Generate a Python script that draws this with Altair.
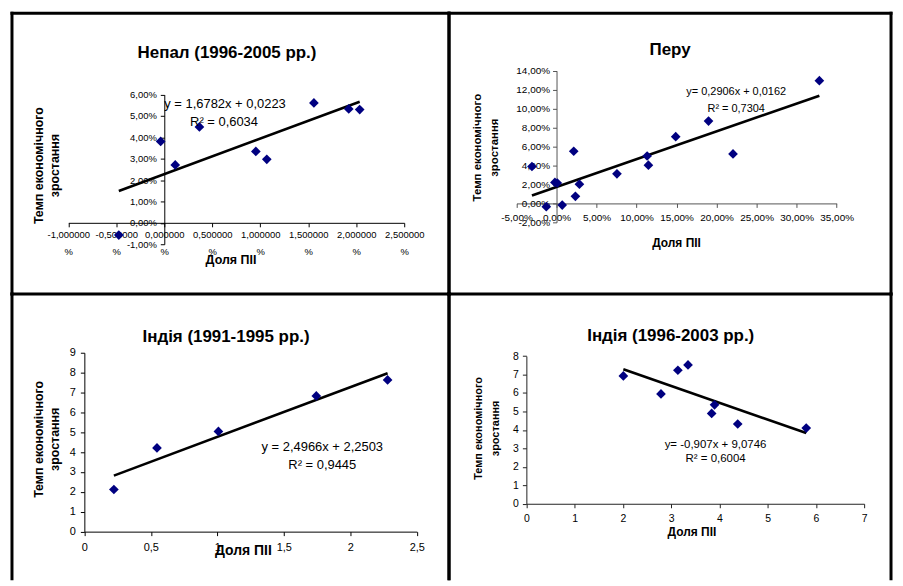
import altair as alt
import pandas as pd

FONT = "Liberation Sans"
POINT_COLOR = "#000080"

# ---------------- data ----------------
nepal_x = [-0.00474, -0.00038, 0.00114, 0.00366, 0.00954, 0.01068, 0.01559, 0.01922, 0.02036]
nepal_y = [-0.0057, 0.0381, 0.0271, 0.0449, 0.0334, 0.0297, 0.0561, 0.0533, 0.0530]

peru_x = [-0.0307, -0.0128, -0.0020, 0.0010, 0.0071, 0.0215, 0.0236, 0.0286,
          0.0755, 0.1132, 0.1148, 0.1489, 0.1899, 0.2205, 0.3284]
peru_y = [0.0389, -0.0035, 0.0221, 0.0215, -0.0018, 0.0550, 0.0074, 0.0203,
          0.0312, 0.0500, 0.0403, 0.0704, 0.0869, 0.0522, 0.1295]

india1_x = [0.222, 0.546, 1.008, 1.744, 2.28]
india1_y = [2.12, 4.21, 5.04, 6.83, 7.63]

india2_x = [2.01, 2.79, 3.14, 3.35, 3.84, 3.90, 4.38, 5.80]
india2_y = [6.92, 5.95, 7.23, 7.52, 4.89, 5.36, 4.32, 4.10]

titles = ["Непал (1996-2005 рр.)", "Перу", "Індія (1991-1995 рр.)", "Індія (1996-2003 рр.)"]
equations = [
    ("y  = 1,6782x + 0,0223", "R² = 0,6034"),
    ("y= 0,2906x + 0,0162", "R² = 0,7304"),
    ("y = 2,4966x + 2,2503", "R² = 0,9445"),
    ("y= -0,907x + 9,0746", "R² = 0,6004"),
]
x_title = "Доля ПІІ"
y_title = ["Темп економічного", "зростання"]

nepal_xticks = [-0.01, -0.005, 0.0, 0.005, 0.01, 0.015, 0.02, 0.025]
nepal_yticks = [-0.01, 0.0, 0.01, 0.02, 0.03, 0.04, 0.05, 0.06]
peru_xticks = [-0.05, 0.0, 0.05, 0.10, 0.15, 0.20, 0.25, 0.30, 0.35]
peru_yticks = [-0.02, 0.0, 0.02, 0.04, 0.06, 0.08, 0.10, 0.12, 0.14]
india1_xticks = [0, 0.5, 1, 1.5, 2, 2.5]
india1_yticks = [0, 1, 2, 3, 4, 5, 6, 7, 8, 9]
india2_xticks = [0, 1, 2, 3, 4, 5, 6, 7]
india2_yticks = [0, 1, 2, 3, 4, 5, 6, 7, 8]

# ---------------- label formats ----------------
PCT2 = "replace(replace(format(datum.value, '.2%'), '.', ','), '\u2212', '-')"
PCT6 = "[replace(replace(format(datum.value*100, '.6f'), '.', ','), '\u2212', '-'), '%']"
PLAIN = "replace(toString(datum.value), '.', ',')"

ONE = pd.DataFrame({"k": [0]})


def txt(text, x, y, size, bold=False, angle=0):
    kw = dict(font=FONT, fontSize=size, color="black", align="center", baseline="middle")
    if bold:
        kw["fontWeight"] = "bold"
    if angle:
        kw["angle"] = angle
    return alt.Chart(ONE).mark_text(**kw).encode(
        x=alt.value(x), y=alt.value(y), text=alt.value(text)
    )


def frame(W, H):
    """Chart-area border: top, left and right edges of the cell."""
    style = dict(color="black", strokeWidth=3, strokeCap="square")
    top = alt.Chart(ONE).mark_rule(**style).encode(x=alt.value(0), x2=alt.value(W), y=alt.value(0))
    left = alt.Chart(ONE).mark_rule(**style).encode(x=alt.value(0), y=alt.value(0), y2=alt.value(H))
    right = alt.Chart(ONE).mark_rule(**style).encode(x=alt.value(W), y=alt.value(0), y2=alt.value(H))
    return [top, left, right]


def panel(cfg):
    df = pd.DataFrame({"x": cfg["xs"], "y": cfg["ys"]})
    W, H = cfg["W"], cfg["H"]
    ac = cfg["axis_color"]
    xaxis = alt.Axis(
        values=cfg["xticks"], labelExpr=cfg["xfmt"], title=None, grid=False,
        offset=cfg["xaxis_y"] - H, tickSize=4, tickColor=ac, domainColor=ac,
        labelFont=FONT, labelFontSize=cfg["tick_fs"], labelColor="black",
        labelPadding=cfg["xpad"], labelOverlap=False, labelFlush=False,
        labelLineHeight=cfg.get("xlh", 12), minExtent=0,
    )
    yaxis = alt.Axis(
        values=cfg["yticks"], labelExpr=cfg["yfmt"], title=None, grid=False,
        offset=-cfg["yaxis_x"], tickSize=4, tickColor=ac, domainColor=ac,
        labelFont=FONT, labelFontSize=cfg["tick_fs"], labelColor="black",
        labelPadding=cfg["ypad"], labelOverlap=False, labelFlush=False, minExtent=0,
    )
    xenc = alt.X("x:Q", scale=alt.Scale(domain=cfg["xdom"], range=cfg["xrng"], nice=False, zero=False), axis=xaxis)
    yenc = alt.Y("y:Q", scale=alt.Scale(domain=cfg["ydom"], range=cfg["yrng"], nice=False, zero=False), axis=yaxis)

    line = alt.Chart(df).transform_regression("x", "y").mark_line(
        color="black", strokeWidth=2.6
    ).encode(x=xenc, y=yenc)
    pts = alt.Chart(df).mark_point(
        shape="diamond", filled=True, color=POINT_COLOR, opacity=1, size=95
    ).encode(x=xenc, y=yenc)

    eq1, eq2 = cfg["eq"]
    layers = [
        line, pts,
        txt(cfg["title"], *cfg["tpos"], 17, bold=True),
        txt(eq1, *cfg["eq1pos"], cfg["eq_fs"]),
        txt(eq2, *cfg["eq2pos"], cfg["eq_fs"]),
        txt(x_title, *cfg["xtpos"], cfg["xt_fs"], bold=True),
        txt(y_title[0], cfg["yt_x"][0], cfg["yt_y"], cfg["yt_fs"], bold=True, angle=270),
        txt(y_title[1], cfg["yt_x"][1], cfg["yt_y"], cfg["yt_fs"], bold=True, angle=270),
    ] + frame(W, H)
    return alt.layer(*layers).properties(width=W, height=H)


nepal = panel(dict(
    xs=nepal_x, ys=nepal_y, W=439, H=282,
    xdom=[-0.01, 0.025], xrng=[56.6, 394], ydom=[-0.01, 0.06], yrng=[232, 81.7],
    xticks=nepal_xticks, yticks=nepal_yticks, xfmt=PCT6, yfmt=PCT2,
    xaxis_y=210.5, yaxis_x=153, axis_color="black", tick_fs=9.5, xpad=3, ypad=4, xlh=17,
    title=titles[0], tpos=(216, 40), eq=equations[0], eq1pos=(214, 91), eq2pos=(213, 109), eq_fs=13,
    xtpos=(220, 248), xt_fs=12.5, yt_x=(27, 43), yt_y=153, yt_fs=12.5,
))

peru = panel(dict(
    xs=peru_x, ys=peru_y, W=444, H=282,
    xdom=[-0.05, 0.35], xrng=[67.8, 389.4], ydom=[-0.02, 0.14], yrng=[210, 57.7],
    xticks=peru_xticks, yticks=peru_yticks, xfmt=PCT2, yfmt=PCT2,
    xaxis_y=191, yaxis_x=108, axis_color="#555555", tick_fs=10, xpad=5, ypad=3,
    title=titles[1], tpos=(222, 37), eq=equations[1], eq1pos=(288.5, 79), eq2pos=(288.5, 96), eq_fs=11,
    xtpos=(228.5, 231), xt_fs=12, yt_x=(29, 46), yt_y=135, yt_fs=11.5,
))

india1 = panel(dict(
    xs=india1_x, ys=india1_y, W=439, H=286,
    xdom=[0, 2.5], xrng=[72.7, 406.7], ydom=[0, 9], yrng=[238.7, 59],
    xticks=india1_xticks, yticks=india1_yticks, xfmt=PLAIN, yfmt=PLAIN,
    xaxis_y=238.7, yaxis_x=72.7, axis_color="black", tick_fs=11, xpad=6, ypad=5,
    title=titles[2], tpos=(215, 43), eq=equations[2], eq1pos=(311.7, 154), eq2pos=(311.7, 172), eq_fs=13,
    xtpos=(232.5, 258), xt_fs=14, yt_x=(27, 43.5), yt_y=146, yt_fs=12.5,
))

india2 = panel(dict(
    xs=india2_x, ys=india2_y, W=444, H=286,
    xdom=[0, 7], xrng=[77.7, 417], ydom=[0, 8], yrng=[210.7, 62.3],
    xticks=india2_xticks, yticks=india2_yticks, xfmt=PLAIN, yfmt=PLAIN,
    xaxis_y=210.7, yaxis_x=77.7, axis_color="#222222", tick_fs=10.5, xpad=6, ypad=4,
    title=titles[3], tpos=(222.7, 42), eq=equations[3], eq1pos=(267.7, 152), eq2pos=(267.8, 166), eq_fs=11.5,
    xtpos=(244, 239), xt_fs=12, yt_x=(30.3, 47.7), yt_y=135, yt_fs=11,
))

chart = alt.concat(
    nepal, peru, india1, india2, columns=2, spacing=0, bounds="flush"
).properties(
    padding=1
).configure_view(
    stroke="transparent"
)

chart.save("out.html", embed_options={"renderer": "svg", "actions": False})
